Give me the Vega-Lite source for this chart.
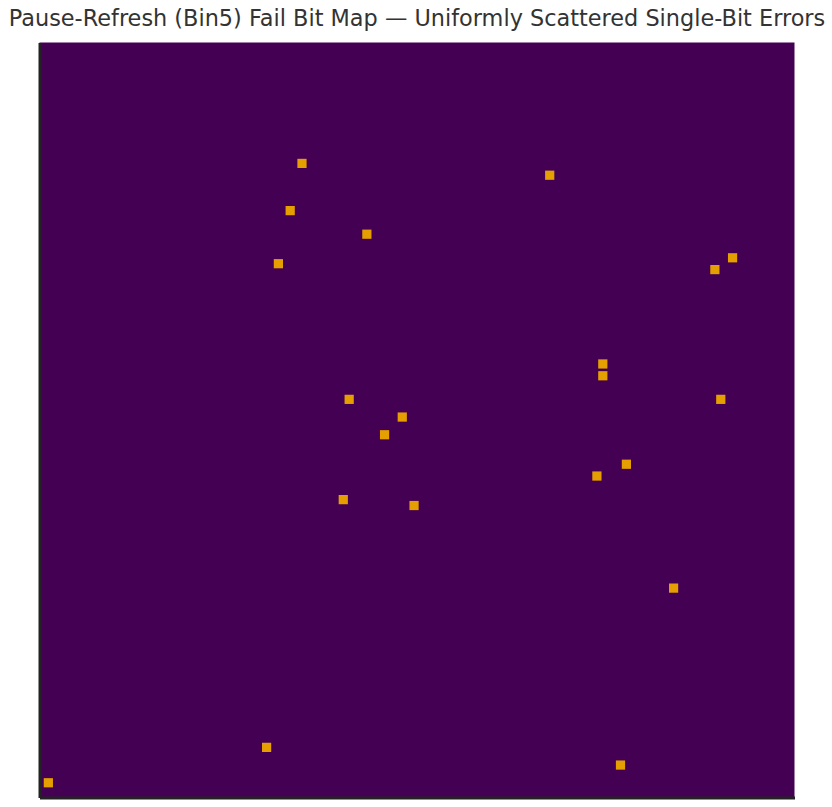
{
  "$schema": "https://vega.github.io/schema/vega-lite/v6.json",
  "width": 755,
  "height": 755,
  "autosize": {"type": "none"},
  "padding": {"left": 39.5, "top": 42.5, "right": 37.5, "bottom": 9.5},
  "background": "white",
  "title": {
    "text": "Pause-Refresh (Bin5) Fail Bit Map — Uniformly Scattered Single-Bit Errors",
    "font": "DejaVu Sans",
    "fontSize": 22.4,
    "fontWeight": "normal",
    "color": "#333333",
    "anchor": "middle",
    "baseline": "alphabetic",
    "offset": -5.5
  },
  "config": {
    "view": {"fill": "#440154", "stroke": null}
  },
  "data": {
    "values": [
      {"col": 44, "row": 20},
      {"col": 86, "row": 22},
      {"col": 42, "row": 28},
      {"col": 55, "row": 32},
      {"col": 40, "row": 37},
      {"col": 117, "row": 36},
      {"col": 114, "row": 38},
      {"col": 95, "row": 54},
      {"col": 95, "row": 56},
      {"col": 52, "row": 60},
      {"col": 115, "row": 60},
      {"col": 61, "row": 63},
      {"col": 58, "row": 66},
      {"col": 99, "row": 71},
      {"col": 94, "row": 73},
      {"col": 51, "row": 77},
      {"col": 63, "row": 78},
      {"col": 107, "row": 92},
      {"col": 38, "row": 119},
      {"col": 98, "row": 122},
      {"col": 1, "row": 125}
    ]
  },
  "mark": {"type": "point", "shape": "square", "filled": true, "size": 85, "color": "#E69F00", "opacity": 1},
  "encoding": {
    "x": {
      "field": "col", "type": "quantitative",
      "scale": {"domain": [-0.5, 127.5], "nice": false, "zero": false},
      "axis": {"title": null, "labels": false, "ticks": false, "grid": false, "domainColor": "#222222", "domainWidth": 3}
    },
    "y": {
      "field": "row", "type": "quantitative",
      "scale": {"domain": [-0.5, 127.5], "nice": false, "zero": false, "reverse": true},
      "axis": {"title": null, "labels": false, "ticks": false, "grid": false, "domainColor": "#222222", "domainWidth": 3}
    }
  }
}
